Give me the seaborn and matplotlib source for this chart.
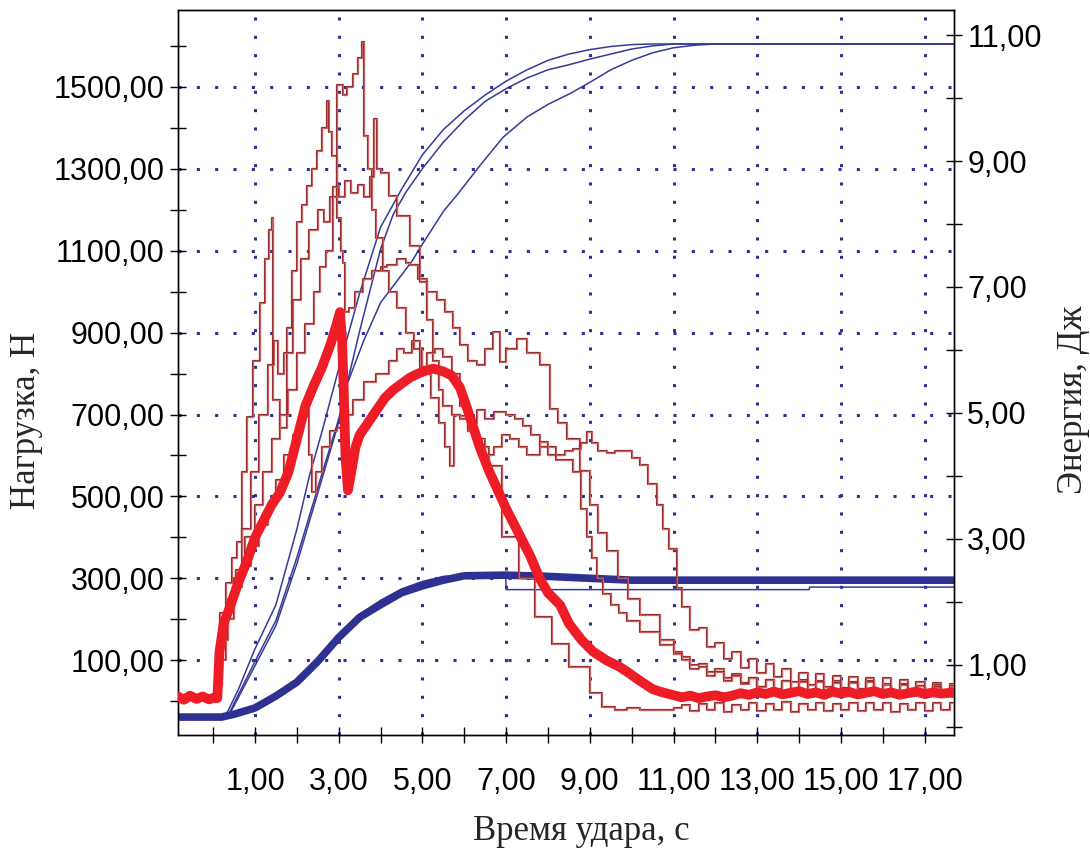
import matplotlib
matplotlib.use('Agg')
import matplotlib.pyplot as plt
import numpy as np
import seaborn as sns

sns.set_theme(style='white')
plt.rcParams['font.family'] = ['Liberation Sans', 'DejaVu Sans']

# ---- load curves: Нагрузка, Н (left axis) ----
# thick red curve
r_t = [-0.84, -0.7, -0.55, -0.4, -0.25, -0.1, 0.05, 0.1, 0.15, 0.25, 0.4, 0.6, 0.8, 1.0, 1.2, 1.4, 1.6, 1.8,
       2.0, 2.2, 2.4, 2.6, 2.8, 2.95, 3.03, 3.08, 3.12, 3.16, 3.22, 3.3, 3.4, 3.5, 3.7, 3.9, 4.1, 4.3, 4.5,
       4.7, 4.9, 5.1, 5.26, 5.5, 5.7, 5.9, 6.1, 6.37, 6.6, 6.78, 7.0, 7.3, 7.57, 7.8, 8.0, 8.29, 8.5, 8.8,
       9.07, 9.4, 9.7, 9.88, 10.2, 10.5, 10.67, 11.0]
r_f = [12, 4, 14, 6, 12, 5, 10, 8, 120, 190, 230, 290, 340, 400, 440, 480, 510, 560,
       640, 720, 770, 815, 870, 920, 950, 880, 760, 600, 515, 560, 620, 650, 680, 710, 740, 760, 775,
       790, 800, 808, 812, 805, 795, 765, 705, 620, 560, 520, 470, 410, 356, 300, 265, 235, 190, 150,
       122, 100, 85, 73, 50, 30, 24, 15]

# thin curves
a_t = [-0.84, 0.0, 0.1, 0.17, 0.3, 0.45, 0.57, 0.7, 0.81, 0.95, 1.12, 1.25, 1.33, 1.4, 1.44, 1.6, 1.76,
       1.88, 2.0, 2.12, 2.24, 2.36, 2.48, 2.6, 2.72, 2.77, 2.85, 2.95, 3.05, 3.11, 3.15, 3.25, 3.4, 3.59,
       3.8, 4.0, 4.15, 4.4, 4.6, 4.7, 4.9, 5.1, 5.34, 5.55, 5.74, 5.9, 6.1, 6.3, 6.5, 6.69, 6.85, 7.0,
       7.26, 7.5, 7.8, 8.05, 8.25, 8.45, 8.76, 9.0, 9.2, 9.4, 9.67, 9.9, 10.2, 10.67, 11.0]
a_f = [8, 10, 60, 216, 290, 350, 389, 560, 693, 830, 971, 1080, 1150, 1179, 736, 667, 910,
       1050, 1170, 1210, 1257, 1300, 1344, 1400, 1465, 1390, 1330, 1180, 1100, 1070, 950, 960, 1000, 1031,
       1050, 1060, 1066, 1080, 1070, 1066, 1030, 1000, 979, 950, 910, 870, 830, 820, 860, 902, 829, 860,
       885, 850, 820, 714, 680, 641, 561, 478, 410, 366, 300, 250, 210, 150, 120]

b_t = [-0.84, 0.0, 0.15, 0.3, 0.5, 0.7, 0.9, 1.1, 1.3, 1.45, 1.55, 1.7, 1.9, 2.1, 2.3, 2.5, 2.65, 2.8,
       2.95, 2.96, 3.1, 3.2, 3.35, 3.45, 3.55, 3.6, 3.7, 3.8, 3.9, 4.06, 4.2, 4.4, 4.6, 4.8, 5.0, 5.2,
       5.4, 5.55, 5.66, 5.75, 5.9, 6.1, 6.3, 6.6, 6.9, 7.3, 7.7, 8.1, 8.5, 9.0, 9.3, 9.6, 9.88, 10.2,
       10.6, 11.0]
b_f = [8, 10, 100, 200, 300, 420, 560, 700, 820, 880, 800, 850, 980, 1080, 1150, 1200, 1170, 1230,
       1250, 1504, 1480, 1500, 1530, 1570, 1610, 1380, 1300, 1200, 1130, 1049, 1000, 960, 900, 860, 800, 740,
       680, 620, 575, 700, 690, 660, 620, 575, 400, 300, 206, 140, 84, 21, -13, -22, -17, -22,
       -20, -15]

c_t = [-0.84, 0.0, 0.1, 0.2, 0.35, 0.55, 0.75, 1.0, 1.2, 1.4, 1.6, 1.8, 2.0, 2.2, 2.4, 2.55, 2.7, 2.87,
       3.0, 3.15, 3.3, 3.45, 3.6, 3.75, 3.85, 3.92, 4.0, 4.2, 4.4, 4.7, 4.95, 5.1, 5.25, 5.4, 5.5, 5.7,
       5.9, 6.1, 6.3, 6.5, 6.7, 7.0, 7.2, 7.4, 7.6, 7.8, 8.0, 8.2, 8.45, 8.6, 8.8, 8.93, 9.05, 9.17,
       9.31, 9.5, 9.7, 9.88, 10.2, 10.67, 11.0]
c_f = [8, 10, 80, 180, 250, 320, 400, 480, 560, 640, 700, 760, 850, 920, 1000, 1060, 1100, 1256,
       1230, 1270, 1240, 1260, 1230, 1280, 1420, 1300, 1290, 1234, 1185, 1112, 1024, 930, 830, 760, 720, 700,
       697, 680, 710, 690, 705, 700, 690, 673, 650, 620, 600, 590, 590, 560, 470, 400, 350, 300,
       262, 235, 215, 195, 170, 137, 115]

d_t = [-0.84, 0.0, 0.1, 0.2, 0.35, 0.5, 0.7, 0.9, 1.1, 1.3, 1.5, 1.7, 1.9, 2.1, 2.25, 2.3, 2.35, 2.45,
       2.6, 2.8, 2.95, 3.15, 3.35, 3.6, 3.9, 4.2, 4.4, 4.55, 4.75, 4.94, 5.1, 5.3, 5.5, 5.7, 5.9, 6.1,
       6.3, 6.5, 6.7, 6.9, 7.1, 7.3, 7.5, 7.8, 8.0, 8.2, 8.4, 8.6, 8.8, 8.93, 9.05, 9.2, 9.4, 9.6,
       9.8, 10.0, 10.2, 10.4, 10.6, 10.75, 10.9, 11.08]
d_f = [8, 10, 40, 150, 230, 280, 330, 380, 430, 480, 540, 600, 650, 700, 720, 600, 510, 560,
       620, 660, 667, 700, 736, 780, 800, 830, 860, 849, 880, 806, 850, 860, 840, 800, 720, 660,
       640, 600, 620, 650, 640, 620, 600, 634, 620, 600, 610, 617, 630, 658, 630, 610, 605, 612,
       610, 595, 576, 530, 478, 420, 373, 276]

# tails after 11.2 (sample every 0.2)
tail_t = list(np.round(np.arange(11.2, 17.85, 0.2), 1))
r_tail = [10, 14, 8, 12, 15, 10, 14, 20, 16, 22, 18, 24, 17, 21, 25, 18, 22, 16, 24, 19, 23, 17, 21, 25,
          18, 22, 16, 20, 24, 18, 22, 19, 21, 20]
a_tail = [108, 88, 92, 72, 80, 58, 66, 46, 58, 36, 52, 28, 50, 22, 48, 20, 50, 24, 46, 18, 48, 22, 50, 20,
          40, 14, 42, 12, 38, 16, 40, 12, 36, 14]
b_tail = [-8, -24, -6, -22, -4, -25, -8, -20, -3, -24, -6, -22, -2, -25, -7, -21, -4, -23, -6, -20, -3, -24,
          -5, -22, -4, -25, -6, -21, -3, -23, -5, -22, -4, -20]
c_tail = [100, 78, 84, 62, 72, 50, 62, 42, 56, 34, 52, 30, 50, 26, 52, 24, 48, 22, 50, 26, 46, 20, 48, 24,
          42, 18, 40, 16, 38, 20, 36, 14, 38, 16]
d_tail = [230, 175, 178, 132, 142, 104, 120, 82, 104, 70, 92, 60, 80, 48, 70, 40, 66, 34, 62, 32, 60, 30,
          58, 28, 56, 26, 52, 24, 48, 22, 44, 20, 42, 20]

# ---- Энергия, Дж (right axis) ----
e_t = [-0.84, 0.2, 0.5, 1.0, 1.5, 2.0, 2.5, 3.0, 3.5, 4.0, 4.5, 5.0, 5.5, 6.0, 7.0, 8.0, 9.0, 10.0,
       12.0, 14.0, 16.0, 17.8]
e_main = [0.165, 0.165, 0.21, 0.31, 0.5, 0.72, 1.05, 1.43, 1.75, 1.95, 2.14, 2.25, 2.34, 2.41, 2.42, 2.40,
          2.37, 2.34, 2.34, 2.34, 2.34, 2.34]

e4_t = [-0.84, 0.25, 0.5, 1.0, 1.5, 2.0, 2.5, 3.0, 3.5, 4.0, 4.5, 5.0, 5.5, 6.0, 6.5, 6.99, 7.0,
        14.24, 14.25, 17.8]
e4 = [0.165, 0.165, 0.24, 0.35, 0.52, 0.74, 1.04, 1.40, 1.80, 2.02, 2.20, 2.32, 2.40, 2.42, 2.42, 2.42, 2.19,
      2.19, 2.23, 2.23]

e1_t = [-0.84, 0.25, 0.36, 0.6, 1.0, 1.5, 2.0, 2.3, 2.6, 3.0, 3.5, 4.0, 4.5, 5.0, 5.5, 6.0, 6.5, 7.0,
        7.5, 8.0, 8.5, 9.0, 9.5, 10.0, 10.5, 17.8]
e1 = [0.165, 0.165, 0.27, 0.6, 1.25, 1.95, 3.15, 4.0, 4.7, 5.7, 6.9, 7.95, 8.55, 9.1, 9.5, 9.8, 10.05, 10.27,
      10.45, 10.6, 10.7, 10.77, 10.82, 10.85, 10.86, 10.86]

e2_t = [-0.84, 0.3, 0.4, 1.0, 1.5, 2.0, 2.6, 3.0, 3.5, 4.0, 4.3, 4.6, 5.0, 5.5, 6.0, 6.5, 7.0, 7.5,
        8.0, 8.5, 9.0, 9.5, 10.0, 10.5, 11.0, 17.8]
e2 = [0.165, 0.165, 0.25, 1.05, 1.7, 2.7, 4.03, 4.9, 6.3, 7.6, 8.15, 8.5, 8.88, 9.3, 9.65, 9.95, 10.15, 10.32,
      10.45, 10.53, 10.62, 10.7, 10.78, 10.83, 10.86, 10.86]

e3_t = [-0.84, 0.3, 0.4, 1.0, 1.5, 2.0, 2.6, 3.0, 3.2, 3.6, 4.0, 4.4, 4.74, 5.02, 5.5, 5.85, 6.4, 6.93,
        7.5, 8.0, 8.52, 9.0, 9.5, 10.0, 10.5, 11.0, 11.5, 12.0, 17.8]
e3 = [0.165, 0.165, 0.22, 0.98, 1.62, 2.6, 3.95, 4.85, 5.45, 6.15, 6.75, 7.1, 7.4, 7.7, 8.2, 8.48, 8.95, 9.38,
      9.7, 9.9, 10.07, 10.25, 10.45, 10.6, 10.72, 10.8, 10.84, 10.86, 10.86]

# ---- ticks ----
x_major = [1, 3, 5, 7, 9, 11, 13, 15, 17]
x_minor = [0, 2, 4, 6, 8, 10, 12, 14, 16]
f_major = [100, 300, 500, 700, 900, 1100, 1300, 1500]
f_minor = [0, 200, 400, 600, 800, 1000, 1200, 1400, 1600]
e_major = [1, 3, 5, 7, 9, 11]
e_minor = [0, 2, 4, 6, 8, 10]


def fmt(v):
    return f"{v:.2f}".replace('.', ',')


fig = plt.figure(figsize=(10.9, 8.49), dpi=100)
ax = fig.add_axes([178 / 1090, 1 - 735 / 849, (954 - 178) / 1090, (735 - 10) / 849])
ax2 = ax.twinx()
ax.set_zorder(ax2.get_zorder() + 1)
ax.patch.set_visible(False)

blue = '#2e3192'
thin_blue = '#353a9a'
red = '#ee1c25'
brown = '#9a2e2e'

# energy curves
for t, e in [(e1_t, e1), (e2_t, e2), (e3_t, e3), (e4_t, e4)]:
    sns.lineplot(x=t, y=e, ax=ax2, color=thin_blue, lw=1.1, estimator=None, sort=False, legend=False)
sns.lineplot(x=e_t, y=e_main, ax=ax2, color=blue, lw=5.5, estimator=None, sort=False, legend=False)

# load curves
for t, f, tail in [(a_t, a_f, a_tail), (b_t, b_f, b_tail), (c_t, c_f, c_tail), (d_t, d_f, d_tail)]:
    sns.lineplot(x=t + tail_t, y=f + tail, ax=ax, color=brown, lw=1.6, drawstyle='steps-post',
                 estimator=None, sort=False, legend=False, zorder=3)
    sns.lineplot(x=t + tail_t, y=f + tail, ax=ax, color='#f08a8a', lw=0.4, drawstyle='steps-post',
                 estimator=None, sort=False, legend=False, zorder=3)
sns.lineplot(x=r_t + tail_t, y=r_f + r_tail, ax=ax, color=red, lw=7, estimator=None, sort=False,
             legend=False, zorder=4)

ax.set_xlim(-0.84, 17.7)
ax.set_ylim(-82, 1687)
ax2.set_ylim(-0.12, 11.40)

ax.set_xticks(x_major)
ax.set_xticks(x_minor, minor=True)
ax.set_xticklabels([fmt(v) for v in x_major])
ax.set_yticks(f_major)
ax.set_yticks(f_minor, minor=True)
ax.set_yticklabels([fmt(v) for v in f_major])
ax2.set_yticks(e_major)
ax2.set_yticks(e_minor, minor=True)
ax2.set_yticklabels([fmt(v) for v in e_major])

ax.tick_params(axis='x', which='both', direction='inout', length=12, width=1, color='black',
               pad=17, labelsize=22, bottom=True)
ax.tick_params(axis='y', which='both', direction='inout', length=11, width=1, color='black',
               pad=4, labelsize=22, left=True)
ax2.tick_params(axis='y', which='both', direction='inout', length=11, width=1, color='black',
                pad=4, labelsize=22, right=True)
for lbl in ax.get_xticklabels() + ax.get_yticklabels() + ax2.get_yticklabels():
    lbl.set_color('black')

ax.grid(True, which='major', color=blue, linestyle=(0, (1, 5)), linewidth=2.2)
ax2.grid(False)
for a in (ax, ax2):
    for s in a.spines.values():
        s.set_color('black')
        s.set_linewidth(1.0)
        s.set_visible(True)
ax.set_xlabel('')
ax.set_ylabel('')
ax2.set_ylabel('')

serif = ['Liberation Serif', 'DejaVu Serif']
fig.text(581 / 1090, 1 - 832 / 849, 'Время удара, с', family=serif, fontsize=25, ha='center', va='center')
fig.text(27 / 1090, 1 - 420 / 849, 'Нагрузка, Н', family=serif, fontsize=25, ha='center', va='center',
         rotation=90)
fig.text(1074 / 1090, 1 - 400 / 849, 'Энергия, Дж', family=serif, fontsize=25, ha='center', va='center',
         rotation=90)

fig.savefig('out.png', dpi=100)
